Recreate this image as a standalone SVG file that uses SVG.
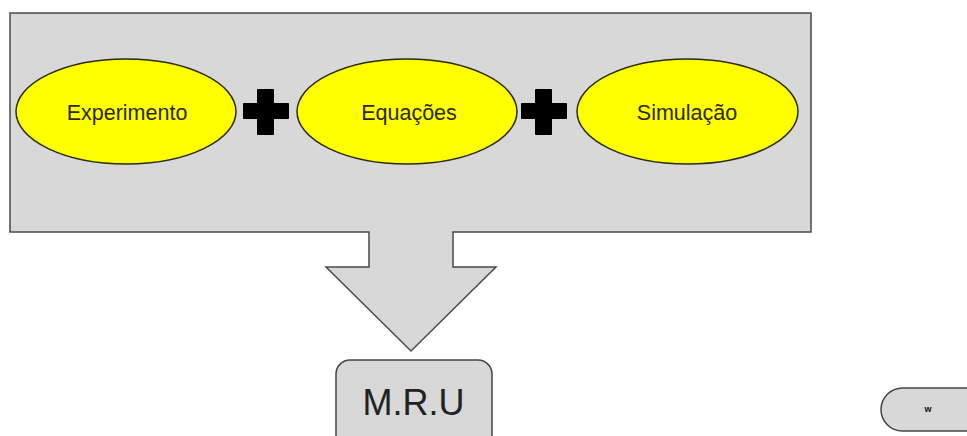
<svg xmlns="http://www.w3.org/2000/svg" width="967" height="436" viewBox="0 0 967 436">
  <style>
    .panel { fill: #d8d8d8; stroke: #4a4a4a; stroke-width: 1.5; stroke-linejoin: miter; }
    .oval { fill: #ffff00; stroke: #2a2a10; stroke-width: 1.5; }
    .label { font-family: "Liberation Sans", Arial, sans-serif; font-size: 21.5px; fill: #2a2a20; text-anchor: middle; }
    .plus { fill: #000; stroke: #000; stroke-width: 1; stroke-linejoin: round; }
    .box { fill: #d8d8d8; stroke: #444; stroke-width: 1.5; }
    .big { font-family: "Liberation Sans", Arial, sans-serif; font-size: 36px; fill: #222; text-anchor: middle; }
  </style>
  <rect width="967" height="436" fill="#ffffff"/>

  <!-- grey panel merged with the downward block arrow -->
  <g id="panel">
    <path class="panel" d="M10,13 H811 V232 H453 V267 H496 L411,351 L326,267 H369 V232 H10 Z"/>
  </g>

  <g id="experimento">
    <ellipse class="oval" cx="126" cy="111.5" rx="110" ry="52.5"/>
    <text class="label" x="127" y="120">Experimento</text>
  </g>

  <g id="equacoes">
    <ellipse class="oval" cx="407" cy="111.5" rx="110" ry="52.5"/>
    <text class="label" x="409" y="120">Equações</text>
  </g>

  <g id="simulacao">
    <ellipse class="oval" cx="687.5" cy="111.5" rx="110.5" ry="52.5"/>
    <text class="label" x="687" y="120">Simulação</text>
  </g>

  <!-- plus signs between the ovals -->
  <g id="connectors">
    <path class="plus" d="M257.5,89.5 H273.5 V103.5 H288.5 V118.5 H273.5 V134.5 H257.5 V118.5 H243.5 V103.5 H257.5 Z"/>
    <path class="plus" d="M535.5,89.5 H551.5 V103.5 H566.5 V118.5 H551.5 V134.5 H535.5 V118.5 H521.5 V103.5 H535.5 Z"/>
  </g>

  <g id="mru">
    <rect class="box" x="336" y="360" width="156" height="92" rx="14"/>
    <text class="big" x="413.5" y="415">M.R.U</text>
  </g>

  <g id="terminal">
    <rect class="box" x="881" y="388" width="130" height="43" rx="21.5"/>
    <text x="928" y="412" font-family="Liberation Sans, Arial, sans-serif" font-size="9" font-weight="bold" fill="#111" text-anchor="middle">w</text>
  </g>
</svg>
